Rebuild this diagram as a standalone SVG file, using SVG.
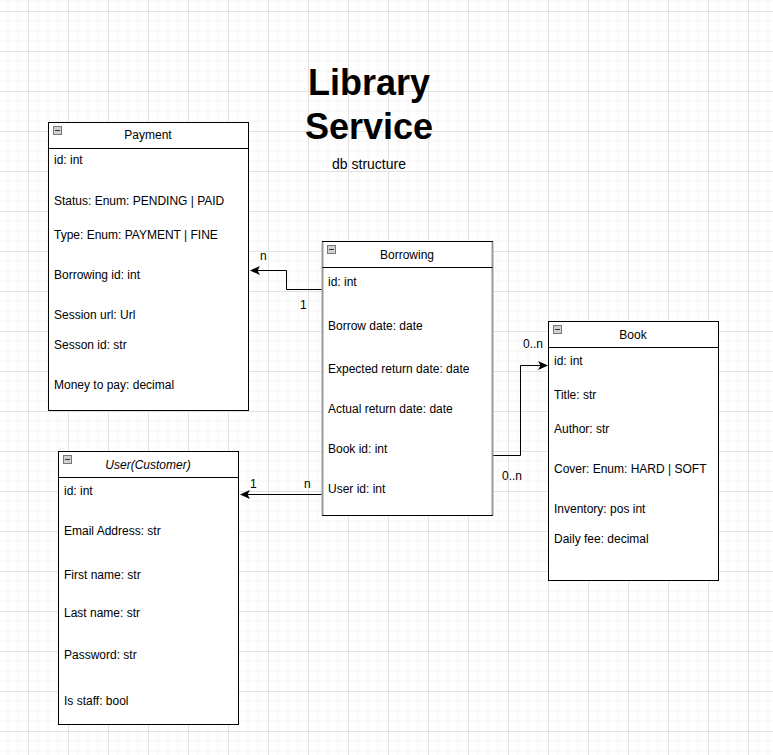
<svg xmlns="http://www.w3.org/2000/svg" width="773" height="755" viewBox="0 0 773 755">
<style>
.box{fill:#fff;stroke:#000;stroke-width:1}
.hdr{fill:none;stroke:#000;stroke-width:1}
.t{font-family:"Liberation Sans",Arial,sans-serif;font-size:12px;fill:#000}
.ttl{font-family:"Liberation Sans",Arial,sans-serif;font-size:12px;fill:#000;text-anchor:middle}
.ic{fill:#d0d0d0;stroke:#777;stroke-width:1}
.icl{stroke:#333;stroke-width:1}
.edge{fill:none;stroke:#000;stroke-width:1}
.lbl{font-family:"Liberation Sans",Arial,sans-serif;font-size:12px;fill:#000}
</style>
<defs>
<pattern id="grid" width="40" height="40" patternUnits="userSpaceOnUse" x="28" y="11">
<path d="M10 0V40M20 0V40M30 0V40M0 10H40M0 20H40M0 30H40" stroke="#f5f5f5" stroke-width="1" fill="none"/>
<path d="M0.5 0V40M0 0.5H40" stroke="#e2e2e2" stroke-width="1" fill="none"/>
</pattern>
<marker id="arr" viewBox="0 0 10 10" refX="9" refY="5" markerWidth="10" markerHeight="10" markerUnits="userSpaceOnUse" orient="auto">
<path d="M0 0.5L10 5L0 9.5L2.5 5Z" fill="#000"/>
</marker>
</defs>
<rect width="773" height="755" fill="#fff"/>
<rect width="773" height="755" fill="url(#grid)"/>

<g id="title">
<text x="369" y="95" text-anchor="middle" font-family="'Liberation Sans',Arial,sans-serif" font-size="36" font-weight="bold">Library</text>
<text x="369" y="139" text-anchor="middle" font-family="'Liberation Sans',Arial,sans-serif" font-size="36" font-weight="bold">Service</text>
<text x="369" y="169" text-anchor="middle" font-family="'Liberation Sans',Arial,sans-serif" font-size="14">db structure</text>
</g>

<g id="connectors">
<path class="edge" d="M322 289.5H286.5V270.5H251" marker-end="url(#arr)"/>
<path class="edge" d="M322 494.5H241" marker-end="url(#arr)"/>
<path class="edge" d="M492 455.5H520.5V365.5H547" marker-end="url(#arr)"/>
<text class="lbl" x="260" y="260">n</text>
<text class="lbl" x="300" y="309">1</text>
<text class="lbl" x="250" y="488">1</text>
<text class="lbl" x="304" y="488">n</text>
<text class="lbl" x="523" y="348">0..n</text>
<text class="lbl" x="502" y="480">0..n</text>
</g>

<g id="payment">
<rect class="box" x="48.5" y="122.5" width="200" height="288"/>
<path class="hdr" d="M48.5 148.5H248.5"/>
<rect class="ic" x="53.5" y="126.5" width="8" height="8"/>
<path class="icl" d="M55 130.5H60"/>
<text class="ttl" x="148" y="139">Payment</text>
<text class="t" x="54" y="164">id: int</text>
<text class="t" x="54" y="205">Status: Enum: PENDING | PAID</text>
<text class="t" x="54" y="239">Type: Enum: PAYMENT | FINE</text>
<text class="t" x="54" y="279">Borrowing id: int</text>
<text class="t" x="54" y="319">Session url: Url</text>
<text class="t" x="54" y="349">Sesson id: str</text>
<text class="t" x="54" y="389">Money to pay: decimal</text>
</g>

<g id="borrowing">
<rect class="box" x="322.5" y="241.5" width="170" height="274"/>
<path d="M322.5 242V515M492.5 242V515" stroke="#999" stroke-width="2" fill="none"/>
<path class="hdr" d="M322.5 267.5H492.5"/>
<rect class="ic" x="327.5" y="245.5" width="8" height="8"/>
<path class="icl" d="M329 249.5H334"/>
<text class="ttl" x="407" y="259">Borrowing</text>
<text class="t" x="328" y="286">id: int</text>
<text class="t" x="328" y="330">Borrow date: date</text>
<text class="t" x="328" y="373">Expected return date: date</text>
<text class="t" x="328" y="413">Actual return date: date</text>
<text class="t" x="328" y="453">Book id: int</text>
<text class="t" x="328" y="493">User id: int</text>
</g>

<g id="book">
<rect class="box" x="548.5" y="321.5" width="170" height="259"/>
<path class="hdr" d="M548.5 347.5H718.5"/>
<rect class="ic" x="553.5" y="325.5" width="8" height="8"/>
<path class="icl" d="M555 329.5H560"/>
<text class="ttl" x="633" y="339">Book</text>
<text class="t" x="554" y="365">id: int</text>
<text class="t" x="554" y="399">Title: str</text>
<text class="t" x="554" y="433">Author: str</text>
<text class="t" x="554" y="473">Cover: Enum: HARD | SOFT</text>
<text class="t" x="554" y="513">Inventory: pos int</text>
<text class="t" x="554" y="543">Daily fee: decimal</text>
</g>

<g id="user">
<rect class="box" x="58.5" y="451.5" width="180" height="273"/>
<path class="hdr" d="M58.5 477.5H238.5"/>
<rect class="ic" x="63.5" y="455.5" width="8" height="8"/>
<path class="icl" d="M65 459.5H70"/>
<text class="ttl" x="148" y="469" font-style="italic">User(Customer)</text>
<text class="t" x="64" y="495">id: int</text>
<text class="t" x="64" y="535">Email Address: str</text>
<text class="t" x="64" y="579">First name: str</text>
<text class="t" x="64" y="617">Last name: str</text>
<text class="t" x="64" y="659">Password: str</text>
<text class="t" x="64" y="705">Is staff: bool</text>
</g>
</svg>
